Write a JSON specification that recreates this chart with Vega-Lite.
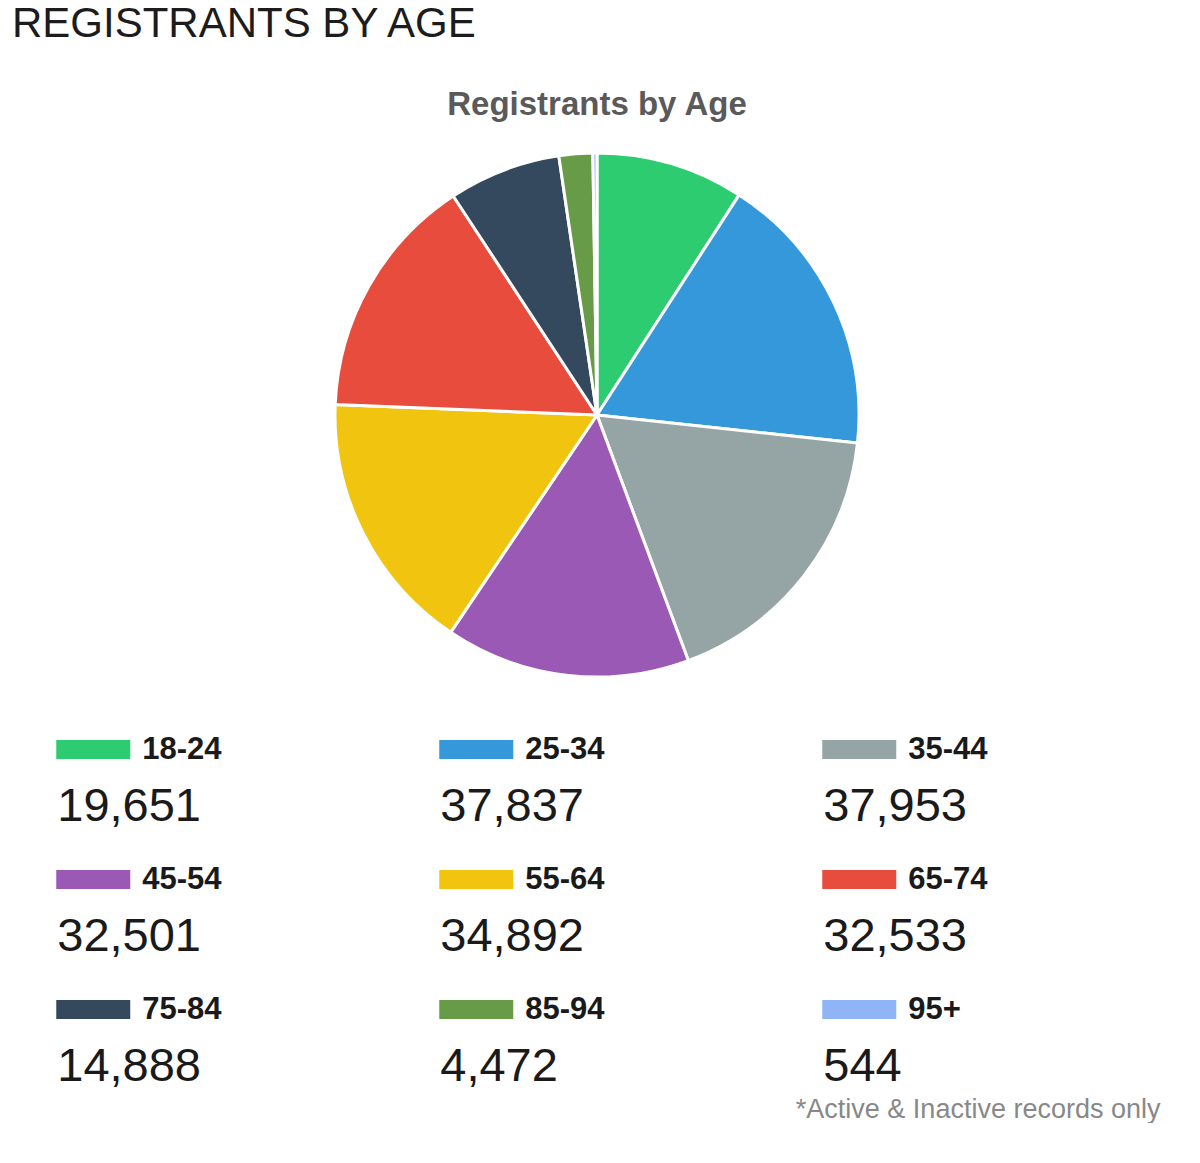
{
  "$schema": "https://vega.github.io/schema/vega-lite/v6.json",
  "background": "white",
  "padding": {"left": 12, "top": 3, "right": 0, "bottom": 0},
  "title": {
    "text": "REGISTRANTS BY AGE",
    "anchor": "start",
    "fontSize": 42,
    "fontWeight": "normal",
    "color": "#1c1c1c",
    "offset": 43
  },
  "data": {
    "values": [
      {"age": "18-24", "count": 19651},
      {"age": "25-34", "count": 37837},
      {"age": "35-44", "count": 37953},
      {"age": "45-54", "count": 32501},
      {"age": "55-64", "count": 34892},
      {"age": "65-74", "count": 32533},
      {"age": "75-84", "count": 14888},
      {"age": "85-94", "count": 4472},
      {"age": "95+", "count": 544}
    ]
  },
  "spacing": 10,
  "vconcat": [
    {
      "width": 1170,
      "height": 550,
      "title": {
        "text": "Registrants by Age",
        "fontSize": 33,
        "fontWeight": "bold",
        "color": "#5a5a5a",
        "offset": 18
      },
      "mark": {"type": "arc", "outerRadius": 262, "stroke": "white", "strokeWidth": 3},
      "encoding": {
        "theta": {"field": "count", "type": "quantitative", "stack": true},
        "order": {"field": "age", "type": "ordinal", "sort": "ascending"},
        "color": {
          "field": "age",
          "type": "nominal",
          "scale": {
            "domain": ["18-24", "25-34", "35-44", "45-54", "55-64", "65-74", "75-84", "85-94", "95+"],
            "range": ["#2ecc71", "#3498db", "#95a5a6", "#9b59b6", "#f1c40f", "#e74c3c", "#34495e", "#689b47", "#8fb5f7"]
          },
          "legend": null
        }
      }
    },
    {
      "facet": {
        "field": "age",
        "type": "nominal",
        "title": null,
        "header": {"title": null, "labelExpr": "''", "labelFontSize": 1, "labelPadding": 0}
      },
      "columns": 3,
      "spacing": 0,
      "title": {
        "text": "*Active & Inactive records only",
        "orient": "bottom",
        "anchor": "end",
        "fontSize": 27,
        "fontWeight": "normal",
        "color": "#888888",
        "offset": 7
      },
      "spec": {
        "width": 382.5,
        "height": 125,
        "layer": [
          {
            "mark": {"type": "tick", "orient": "horizontal", "size": 74, "thickness": 19, "xOffset": -110, "yOffset": -14, "opacity": 1},
            "encoding": {"color": {"field": "age", "type": "nominal", "legend": null}}
          },
          {
            "mark": {"type": "text", "align": "left", "baseline": "alphabetic", "dx": -61, "dy": -5, "fontSize": 31, "fontWeight": "bold", "color": "#1a1a1a"},
            "encoding": {"text": {"field": "age"}}
          },
          {
            "mark": {"type": "text", "align": "left", "baseline": "alphabetic", "dx": -146, "dy": 57, "fontSize": 47, "color": "#1a1a1a"},
            "encoding": {"text": {"field": "count", "type": "quantitative", "format": ","}}
          }
        ]
      }
    }
  ],
  "config": {
    "font": "Liberation Sans",
    "view": {"stroke": null}
  }
}
